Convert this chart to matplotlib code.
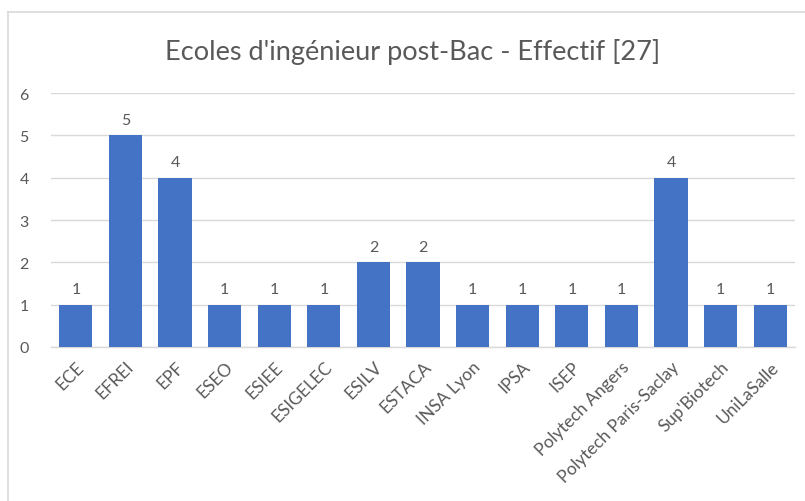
import matplotlib
matplotlib.use("Agg")
import matplotlib.pyplot as plt
from matplotlib.lines import Line2D

ecoles = ["ECE", "EFREI", "EPF", "ESEO", "ESIEE", "ESIGELEC", "ESILV", "ESTACA",
          "INSA Lyon", "IPSA", "ISEP", "Polytech Angers", "Polytech Paris-Saclay",
          "Sup'Biotech", "UniLaSalle"]
effectif = [1, 5, 4, 1, 1, 1, 2, 2, 1, 1, 1, 1, 4, 1, 1]
y_ticks = [0, 1, 2, 3, 4, 5, 6]
titre = "Ecoles d'ingénieur post-Bac - Effectif [27]"

plt.rcParams['font.family'] = ['Lato', 'DejaVu Sans']
gris = "#595959"

fig = plt.figure(figsize=(8.05, 5.02), dpi=100)
ax = fig.add_axes([0.0634, 0.3068, 0.9242, 0.5059])

x = range(len(ecoles))
bars = ax.bar(x, effectif, width=0.67, color="#4472C4", zorder=3)
for b, v in zip(bars, effectif):
    ax.text(b.get_x() + b.get_width() / 2, v + 0.2, str(v), ha="center", va="bottom",
            fontsize=11.5, color=gris)

ax.set_xlim(-0.5, len(ecoles) - 0.5)
ax.set_ylim(0, 6)
ax.set_yticks(y_ticks)
ax.set_xticks(list(x))
ax.set_xticklabels(ecoles, rotation=45, ha="right", rotation_mode="anchor",
                   fontsize=12.5, color=gris)
ax.tick_params(axis="y", length=0, pad=16, labelsize=11.5, labelcolor=gris)
ax.tick_params(axis="x", length=0, pad=8)
ax.grid(axis="y", color="#d9d9d9", linewidth=1, zorder=0)
for s in ["top", "right", "left"]:
    ax.spines[s].set_visible(False)
ax.spines["bottom"].set_color("#d9d9d9")
ax.spines["bottom"].set_linewidth(1)

fig.text(0.513, 0.896, titre, ha="center", va="center", fontsize=19.5, color=gris)

# chart border (cropped)
fig.add_artist(Line2D([8 / 805, 1], [1 - 13 / 502, 1 - 13 / 502], transform=fig.transFigure,
                      color="#d9d9d9", linewidth=1.2))
fig.add_artist(Line2D([8 / 805, 8 / 805], [0, 1 - 13 / 502], transform=fig.transFigure,
                      color="#d9d9d9", linewidth=1.2))

fig.savefig("out.png", dpi=100)
